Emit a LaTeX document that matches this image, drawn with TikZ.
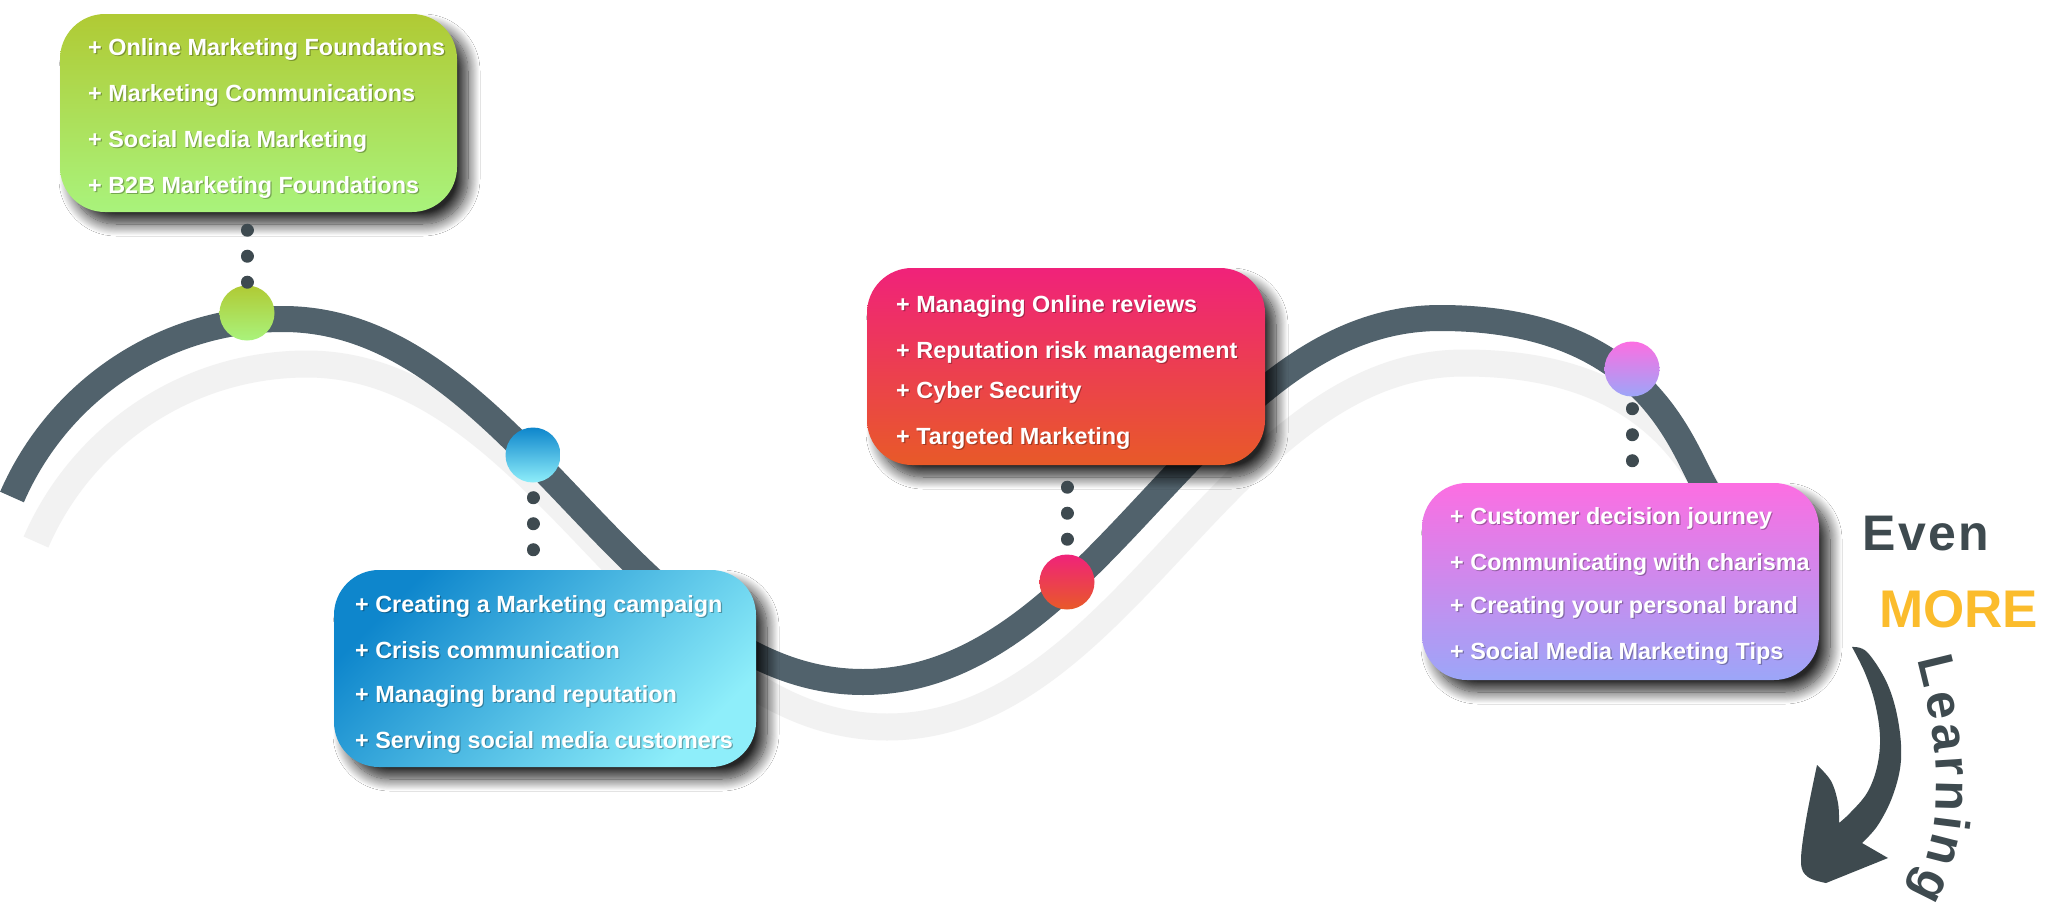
\documentclass[tikz,border=0pt]{standalone}
\usepackage{fontspec}
\setmainfont{Liberation Sans}
\usetikzlibrary{shadows.blur,decorations.text}
\definecolor{bandc}{HTML}{51626C}
\definecolor{bandshadow}{HTML}{F2F2F2}
\definecolor{dotc}{HTML}{3E4A50}
\definecolor{gtop}{HTML}{B0CA34}
\definecolor{gbot}{HTML}{A9F37C}
\definecolor{btop}{HTML}{0E86CC}
\definecolor{bbot}{HTML}{8EEEFA}
\definecolor{rtop}{HTML}{F0227A}
\definecolor{rbot}{HTML}{E85A28}
\definecolor{ptop}{HTML}{FC6EE2}
\definecolor{pbot}{HTML}{9CA6F8}
\definecolor{darktext}{HTML}{3E4A4F}
\definecolor{moreyellow}{HTML}{FBBC2C}
\newcommand\itemfont{\fontsize{23.4}{28}\selectfont\bfseries}
\newcommand\bigfont{\fontsize{50}{50}\selectfont\bfseries}
\newcommand\morefont{\fontsize{53}{53}\selectfont\bfseries}
\newcommand\learnfont{\fontsize{50}{50}\selectfont\bfseries}
\newcommand\mkitem[4]{%
  \node[itemshade] (#1s) at (#2+1.2,-#3-1.6) {#4};
  \node[itemtext] (#1) at (#2,-#3) {#4};}
\tikzset{
  card/.style={rounded corners=45pt, inner sep=0pt,
    blur shadow={shadow xshift=11pt, shadow yshift=-12pt, shadow blur radius=12pt, shadow opacity=85, shadow blur steps=16}},
  pin/.style={circle, inner sep=0pt, minimum size=55pt},
  itemtext/.style={anchor=base west, inner sep=0pt, text=white, font=\itemfont},
  itemshade/.style={anchor=base west, inner sep=0pt, text=black, opacity=0.3, font=\itemfont},
  dotline/.style={dotc, line width=13pt, line cap=round, dash pattern=on 0.01pt off 26pt, dash phase=#1},
  wave/.style={line width=26pt},
}
\begin{document}
\begin{tikzpicture}[x=1pt,y=1pt]
\fill[white] (0,0) rectangle (2048,-910);
\useasboundingbox (0,0) rectangle (2048,-910);

% wave shadow and wave
\draw[wave, bandshadow, line width=27pt, shift={(24,-45)}] (12,-497) .. controls (59,-389) and (165,-319) .. (283,-319)
  .. controls (517,-319) and (629,-682) .. (863,-682)
  .. controls (1100,-682) and (1203,-318) .. (1440,-318)
  .. controls (1640,-318) and (1679,-439) .. (1703,-483) -- (1720,-514);
\draw[wave, bandc] (12,-497) .. controls (59,-389) and (165,-319) .. (283,-319)
  .. controls (517,-319) and (629,-682) .. (863,-682)
  .. controls (1100,-682) and (1203,-318) .. (1440,-318)
  .. controls (1640,-318) and (1679,-439) .. (1703,-483) -- (1720,-514);

% cards
\node[card, minimum width=397pt, minimum height=198pt, top color=gtop, bottom color=gbot] (g) at (258.5,-113) {};
\node[card, minimum width=422pt, minimum height=197pt, top color=btop, bottom color=bbot, shading angle=45] (b) at (545,-668.5) {};
\node[card, minimum width=398pt, minimum height=197pt, top color=rtop, bottom color=rbot] (r) at (1066,-366.5) {};
\node[card, minimum width=397pt, minimum height=197pt, top color=ptop, bottom color=pbot] (p) at (1620.5,-581.5) {};

% pins
\node[pin, top color=gtop, bottom color=gbot] (gc) at (247,-313) {};
\node[pin, top color=btop, bottom color=bbot] (bc) at (533,-455) {};
\node[pin, top color=rtop, bottom color=rbot] (rc) at (1067,-582) {};
\node[pin, top color=ptop, bottom color=pbot] (pc) at (1632,-369) {};

% dotted connectors
\draw[dotline=8pt] (gc |- g.south) -- (gc.north);
\draw[dotline=11pt] (bc.south) -- (bc |- b.north);
\draw[dotline=4pt] (rc |- r.south) -- (rc.north);
\draw[dotline=14pt] (pc.south) -- (pc |- p.north);

% items
\mkitem{g1}{88}{55}{+ Online Marketing Foundations}
\mkitem{g2}{88}{101}{+ Marketing Communications}
\mkitem{g3}{88}{147}{+ Social Media Marketing}
\mkitem{g4}{88}{193}{+ B2B Marketing Foundations}
\mkitem{b1}{355}{612}{+ Creating a Marketing campaign}
\mkitem{b2}{355}{658}{+ Crisis communication}
\mkitem{b3}{355}{702}{+ Managing brand reputation}
\mkitem{b4}{355}{748}{+ Serving social media customers}
\mkitem{r1}{896}{312}{+ Managing Online reviews}
\mkitem{r2}{896}{358}{+ Reputation risk management}
\mkitem{r3}{896}{398}{+ Cyber Security}
\mkitem{r4}{896}{444}{+ Targeted Marketing}
\mkitem{p1}{1450}{524}{+ Customer decision journey}
\mkitem{p2}{1450}{570}{+ Communicating with charisma}
\mkitem{p3}{1450}{613}{+ Creating your personal brand}
\mkitem{p4}{1450}{659}{+ Social Media Marketing Tips}

% Even MORE Learning
\node[anchor=base west, inner sep=0pt, text=darktext, font=\bigfont] (even) at (1862,-550) {E\kern2.5pt v\kern2.5pt e\kern2.5pt n};
\node[anchor=base west, inner sep=0pt, text=moreyellow, font=\morefont] (more) at (1879,-627) {MORE};

\fill[darktext] plot[smooth, tension=0.6] coordinates {(1852,-647) (1867,-652) (1887,-683) (1898,-720) (1901,-760) (1893,-795) (1878,-825) (1862,-843)}
  -- (1888,-858) -- (1826,-883)
  -- plot[smooth, tension=0.6] coordinates {(1826,-883) (1808,-877) (1801,-862) (1806,-820) (1817,-765)}
  -- plot[smooth, tension=0.6] coordinates {(1817,-765) (1831,-781) (1838,-803) (1839,-823)}
  -- plot[smooth, tension=0.6] coordinates {(1839,-823) (1850,-813) (1867,-793) (1877,-767) (1880,-737) (1875,-703) (1865,-673) (1852,-647)}
  -- cycle;

\path[decorate, decoration={text effects along path, text={Learning},
    text effects/.cd, text along path, fit text to path,
    characters={text=darktext, font=\learnfont, inner sep=0pt}}]
  (1917,-660) .. controls (1938,-740) and (1950,-830) .. (1910,-893);
\end{tikzpicture}
\end{document}
